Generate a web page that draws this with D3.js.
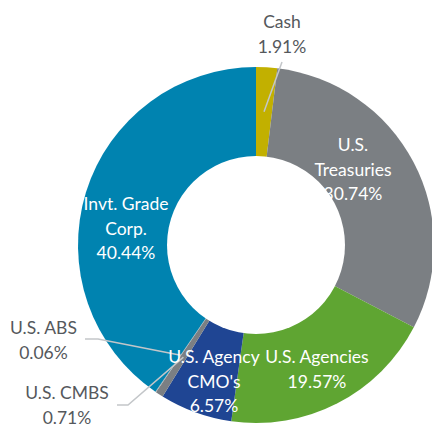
<!DOCTYPE html>
<html>
<head>
<meta charset="utf-8">
<script src="https://cdn.jsdelivr.net/npm/d3@7"></script>
<style>
  body { margin: 0; background: #fff; }
  svg { display: block; }
</style>
</head>
<body>
<div id="chart"></div>
<script>
const sectors = ["Cash", "U.S. Treasuries", "U.S. Agencies", "U.S. Agency CMO's", "U.S. CMBS", "U.S. ABS", "Invt. Grade Corp."];
const weights = [1.91, 30.74, 19.57, 6.57, 0.71, 0.06, 40.44];
const colors = ["#c2b000", "#7b7f83", "#5fa532", "#1f4593", "#7b7f83", "#a7abae", "#0083b0"];
// label lines per sector (name lines, value is added after)
const labelLines = [
  ["Cash"], ["U.S.", "Treasuries"], ["U.S. Agencies"], ["U.S. Agency", "CMO's"],
  ["U.S. CMBS"], ["U.S. ABS"], ["Invt. Grade", "Corp."]
];

const width = 432, height = 425;
const cx = 256, cy = 245, rOuter = 178, rInner = 89;
const lineH = 24.5;

// where each label sits: x centre, baseline of first line, inside?, leader elbow
const labelPos = [
  { x: 282, y: 28, inside: false, elbow: [[282, 62]] },
  { x: 353, y: 151, inside: true },
  { x: 317, y: 363, inside: true },
  { x: 214, y: 363, inside: true },
  { x: 67, y: 399, inside: false, elbow: [[117, 405], [128, 405]] },
  { x: 43.5, y: 334, inside: false, elbow: [[85, 339], [98, 339]] },
  { x: 126, y: 210, inside: true }
];

const data = sectors.map((s, i) => ({ name: s, value: weights[i], color: colors[i], lines: labelLines[i], pos: labelPos[i] }));

const svg = d3.select("#chart").append("svg")
  .attr("width", width).attr("height", height);

const g = svg.append("g").attr("transform", `translate(${cx},${cy})`);

const pie = d3.pie().value(d => d.value).sort(null);
const arc = d3.arc().innerRadius(0).outerRadius(rOuter);
const midArc = d3.arc().innerRadius(rInner).outerRadius(rOuter);

const arcs = pie(data);

g.selectAll("path.slice")
  .data(arcs)
  .join("path")
  .attr("class", "slice")
  .attr("d", arc)
  .attr("fill", d => d.data.color);

// leader lines for outside labels
const line = d3.line();
svg.selectAll("path.leader")
  .data(arcs.filter(d => !d.data.pos.inside))
  .join("path")
  .attr("class", "leader")
  .attr("d", d => {
    const c = midArc.centroid(d);
    return line([...d.data.pos.elbow, [c[0] + cx, c[1] + cy]]);
  })
  .attr("fill", "none")
  .attr("stroke", "#c3c6c9")
  .attr("stroke-width", 1.5);

// labels
const fmt = v => v.toFixed(2) + "%";
const labels = svg.selectAll("text.lbl")
  .data(data)
  .join("text")
  .attr("class", "lbl")
  .attr("text-anchor", "middle")
  .attr("font-family", "Lato, 'Open Sans', sans-serif")
  .attr("font-size", 17.5)
  .attr("fill", d => d.pos.inside ? "#ffffff" : "#55585c");

labels.selectAll("tspan")
  .data(d => [...d.lines, fmt(d.value)].map((t, k) => ({ t, k, p: d.pos })))
  .join("tspan")
  .attr("x", d => d.p.x)
  .attr("y", d => d.p.y + d.k * lineH)
  .text(d => d.t);

// donut hole drawn last, it hides part of the labels as in the original
g.append("circle").attr("r", rInner).attr("fill", "#fff");
</script>
</body>
</html>
